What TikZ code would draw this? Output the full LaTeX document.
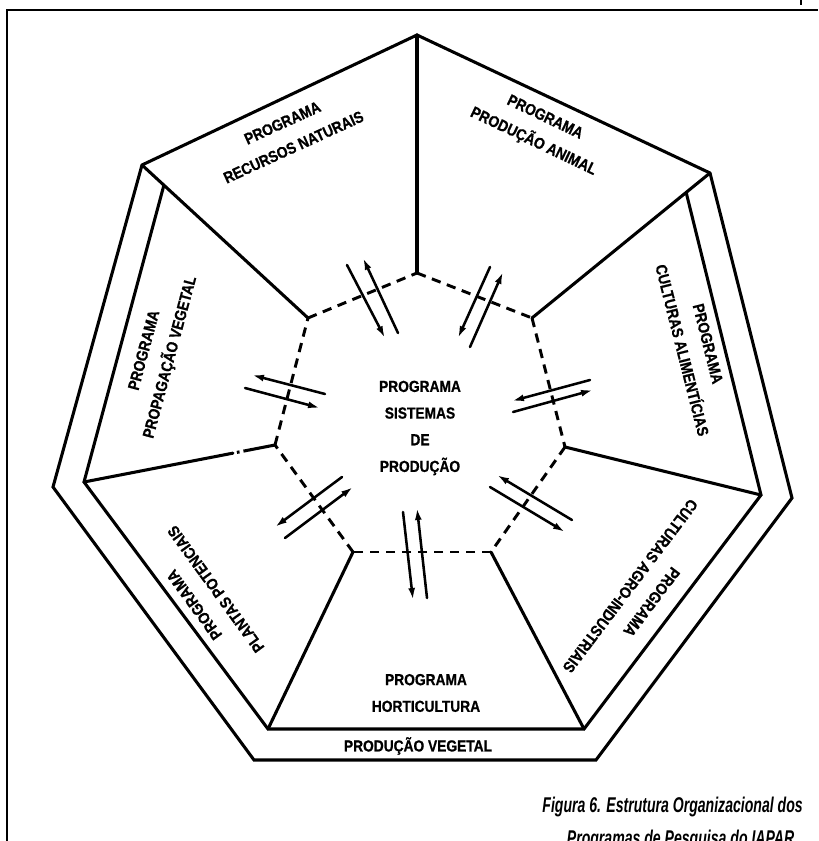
\documentclass[tikz,border=0pt]{standalone}
\usepackage{fontspec}
\setmainfont{Liberation Sans}
\newfontfamily\labfont[FakeStretch=0.86,FakeBold=0.8]{Liberation Sans}
\newfontfamily\capfont[FakeStretch=0.66]{Liberation Sans}
\usetikzlibrary{arrows.meta,calc}

\begin{document}
\begin{tikzpicture}[x=0.75pt,y=-0.75pt,
  heavy/.style={line width=2.3pt, line join=miter, line cap=round},
  frameline/.style={line width=2.2pt, line join=miter},
  dashedge/.style={line width=2.2pt, dash pattern=on 7pt off 5pt},
  flow/.style={line width=1.9pt, line cap=round, -{Latex[length=9pt,width=5.2pt]}},
  lbl/.style={font=\labfont\bfseries\fontsize{12}{20}\selectfont, align=center, inner sep=0pt},
  capt/.style={font=\capfont\bfseries\itshape\fontsize{16}{19}\selectfont, inner sep=0pt}]

\useasboundingbox (0,0) rectangle (818,841);

% page frame
\coordinate (F1) at (7,841);
\coordinate (F2) at (7,10);
\coordinate (F3) at (818,10);
\draw[frameline] (F1) -- (F2) -- (F3);
\coordinate (K1) at (801,0);
\coordinate (K2) at (801,5);
\draw[line width=0.8pt] (K1) -- (K2);

% outer heptagon and the Producao Vegetal band
\coordinate (T)   at (417,35);
\coordinate (UL)  at (142,165);
\coordinate (UR)  at (710,173);
\coordinate (Lo)  at (53,487);
\coordinate (Li)  at (84,482);
\coordinate (Ro)  at (792,498);
\coordinate (Ri)  at (761,495);
\coordinate (BLo) at (254,760);
\coordinate (BLi) at (268,729);
\coordinate (BRo) at (596,760);
\coordinate (BRi) at (584,729);

% inner dashed heptagon
\coordinate (DT)  at (417,273);
\coordinate (DUR) at (532,318);
\coordinate (DR)  at (565,447);
\coordinate (DBR) at (491,552);
\coordinate (DBL) at (353,552);
\coordinate (DL)  at (275,445);
\coordinate (DUL) at (308,318);

% band inner line starts on the upper spokes
\coordinate (ULi) at ($(UL)!0.132!(DUL)$);
\coordinate (URi) at ($(UR)!0.134!(DUR)$);

\draw[heavy] (UL) -- (T) -- (UR);
\draw[heavy] (UL) -- (Lo) -- (BLo) -- (BRo) -- (Ro) -- (UR);
\draw[heavy] (ULi) -- (Li) -- (BLi) -- (BRi) -- (Ri) -- (URi);

% spokes
\draw[heavy] (T) -- (DT);
\draw[heavy] (UL) -- (DUL);
\draw[heavy] (UR) -- (DUR);
\draw[heavy] (Ri) -- (DR);
\draw[heavy] (BRi) -- (DBR);
\draw[heavy] (BLi) -- (DBL);
\coordinate (LS) at ($(Li)!0.78!(DL)$);
\draw[heavy] (Li) -- (LS);
\draw[line width=2.3pt, dash pattern=on 0pt off 3pt on 2pt off 3pt on 40pt] (LS) -- (DL);

% dashed boundary of the central programme
\draw[dashedge] (DT) -- (DUR);
\draw[dashedge] (DUR) -- (DR);
\draw[dashedge] (DR) -- (DBR);
\draw[dashedge] (DBR) -- (DBL);
\draw[dashedge] (DBL) -- (DL);
\draw[dashedge] (DL) -- (DUL);
\draw[dashedge] (DUL) -- (DT);

% exchange arrows across each dashed side
\coordinate (p1s) at (347,265); \coordinate (p1e) at (385,338);
\coordinate (p2s) at (398,333); \coordinate (p2e) at (363,258);
\coordinate (q1s) at (490,267); \coordinate (q1e) at (458,338);
\coordinate (q2s) at (470,347); \coordinate (q2e) at (503,272);
\coordinate (r1s) at (325,394); \coordinate (r1e) at (252,375);
\coordinate (r2s) at (245,388); \coordinate (r2e) at (320,408);
\coordinate (s1s) at (590,380); \coordinate (s1e) at (512,401);
\coordinate (s2s) at (513,412); \coordinate (s2e) at (593,390);
\coordinate (u1s) at (342,477); \coordinate (u1e) at (275,527);
\coordinate (u2s) at (285,538); \coordinate (u2e) at (353,487);
\coordinate (v1s) at (572,520); \coordinate (v1e) at (497,475);
\coordinate (v2s) at (490,487); \coordinate (v2e) at (565,532);
\coordinate (w1s) at (403,512); \coordinate (w1e) at (413,600);
\coordinate (w2s) at (427,598); \coordinate (w2e) at (417,508);
\foreach \a in {p,q,r,s,u,v,w}{
  \draw[flow] (\a1s) -- (\a1e);
  \draw[flow] (\a2s) -- (\a2e);
}

% programme labels
\node[lbl, rotate=24.6]  (rn) at (288,135) {PROGRAMA\\RECURSOS NATURAIS};
\node[lbl, rotate=-25.5] (pa) at (539,130) {PROGRAMA\\PRODUÇÃO ANIMAL};
\node[lbl, rotate=-75.8] (ca) at (695,347) {PROGRAMA\\CULTURAS ALIMENTÍCIAS};
\node[lbl, rotate=-127]  (ai) at (641,594) {PROGRAMA\\CULTURAS AGRO-INDUSTRIAIS};
\node[lbl]               (ho) at (426,693) {PROGRAMA\\HORTICULTURA};
\node[lbl]               (pv) at (418,746) {PRODUÇÃO VEGETAL};
\node[lbl, rotate=126]   (pp) at (205,597) {PROGRAMA\\PLANTAS POTENCIAIS};
\node[lbl, rotate=75]    (pg) at (158,354) {PROGRAMA\\PROPAGAÇÃO VEGETAL};
\node[lbl]               (sp) at (420,428) {PROGRAMA\\SISTEMAS\\DE\\PRODUÇÃO};

% caption
\node[capt, anchor=base east] (capA) at (803,812) {Figura 6. Estrutura Organizacional dos};
\node[capt, anchor=base] (capB) at ($(capA.base)+(8,33)$) {Programas de Pesquisa do IAPAR};
\end{tikzpicture}
\end{document}
